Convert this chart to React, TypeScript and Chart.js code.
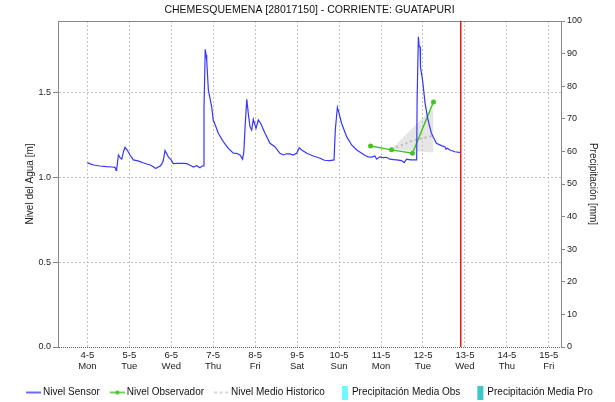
import React, { useEffect, useRef } from 'react';
import { Chart, registerables } from 'chart.js';

Chart.register(...registerables);

const TITLE = 'CHEMESQUEMENA [28017150] - CORRIENTE: GUATAPURI';
const Y_TITLE = 'Nivel del Agua [m]';
const Y1_TITLE = 'Precipitación [mm]';

// x values are days counted from 4-5 00:00
const DAY_TICKS = [0, 1, 2, 3, 4, 5, 6, 7, 8, 9, 10, 11];
const DAY_LABELS = ['4-5', '5-5', '6-5', '7-5', '8-5', '9-5', '10-5', '11-5', '12-5', '13-5', '14-5', '15-5'];
const WEEKDAY_LABELS = ['Mon', 'Tue', 'Wed', 'Thu', 'Fri', 'Sat', 'Sun', 'Mon', 'Tue', 'Wed', 'Thu', 'Fri'];
const X_MIN = -0.7;
const X_MAX = 11.29;

const LEVEL_TICKS = [0, 0.5, 1, 1.5];
const LEVEL_MAX = 1.92;
const PRECIP_TICKS = [0, 10, 20, 30, 40, 50, 60, 70, 80, 90, 100];
const NOW_DAY = 8.9;

const SENSOR_DAYS = [
  0.0, 0.05, 0.15, 0.3, 0.45, 0.6, 0.66, 0.684, 0.7, 0.74, 0.78, 0.82, 0.86, 0.898, 0.95,
  1.017, 1.096, 1.18, 1.256, 1.33, 1.415, 1.5, 1.573, 1.62, 1.653, 1.7, 1.732, 1.78, 1.811, 1.851,
  1.89, 1.93, 2.0, 2.05, 2.15, 2.3, 2.368, 2.45, 2.526, 2.6, 2.685, 2.73, 2.764, 2.78, 2.81, 2.83,
  2.845, 2.884, 2.963, 3.0, 3.06, 3.12, 3.24, 3.36, 3.48, 3.56, 3.64, 3.7, 3.73, 3.76, 3.8, 3.836,
  3.876, 3.916, 3.956, 4.02, 4.075, 4.13, 4.234, 4.353, 4.47, 4.59, 4.67, 4.75, 4.83, 4.9, 4.99,
  5.05, 5.11, 5.23, 5.385, 5.545, 5.65, 5.78, 5.88, 5.91, 5.96, 6.0, 6.06, 6.18, 6.3, 6.42, 6.54,
  6.62, 6.7, 6.78, 6.855, 6.895, 6.97, 7.05, 7.13, 7.21, 7.3, 7.37, 7.49, 7.55, 7.61, 7.7, 7.85,
  7.86, 7.89, 7.91, 7.93, 7.94, 7.99, 8.05, 8.12, 8.2, 8.32, 8.44, 8.52, 8.55, 8.58, 8.64, 8.76, 8.9,
];
const SENSOR_LEVELS = [
  1.086, 1.08, 1.072, 1.066, 1.062, 1.06, 1.058, 1.04, 1.05, 1.131, 1.115, 1.106, 1.15, 1.176, 1.16,
  1.131, 1.102, 1.098, 1.092, 1.085, 1.078, 1.072, 1.062, 1.052, 1.055, 1.062, 1.065, 1.08, 1.1, 1.157,
  1.14, 1.12, 1.1, 1.08, 1.082, 1.082, 1.08, 1.07, 1.06, 1.068, 1.055, 1.065, 1.066, 1.406, 1.753, 1.72,
  1.69, 1.513, 1.415, 1.337, 1.3, 1.259, 1.21, 1.17, 1.141, 1.14, 1.131, 1.106, 1.15, 1.298, 1.459, 1.376,
  1.298, 1.278, 1.341, 1.288, 1.337, 1.318, 1.259, 1.2, 1.18, 1.141, 1.131, 1.138, 1.137, 1.13, 1.141,
  1.174, 1.16, 1.141, 1.125, 1.112, 1.1, 1.098, 1.102, 1.278, 1.412, 1.376, 1.318, 1.239, 1.19, 1.16, 1.141,
  1.128, 1.12, 1.118, 1.125, 1.106, 1.12, 1.115, 1.117, 1.106, 1.104, 1.102, 1.098, 1.086, 1.106, 1.102, 1.102,
  1.455, 1.827, 1.77, 1.768, 1.65, 1.572, 1.435, 1.337, 1.259, 1.2, 1.186, 1.18, 1.165, 1.17, 1.16, 1.15, 1.145,
];

const OBS_DAYS = [6.75, 7.25, 7.75, 8.25];
const OBS_LEVELS = [1.184, 1.161, 1.141, 1.443];

const HIST_DAYS = [7.25, 7.75, 8.25];
const HIST_MEAN = [1.165, 1.215, 1.245];
const HIST_MAX = [1.165, 1.29, 1.41];
const HIST_MIN = [1.165, 1.155, 1.145];

const PRECIP_OBS: number[] = [];
const PRECIP_PRO: number[] = [];

const LEGEND_LABELS = ['Nivel Sensor', 'Nivel Observador', 'Nivel Medio Historico', 'Precipitación Media Obs', 'Precipitación Media Pro'];

const BLUE = 'rgb(55,55,255)';
const GREEN = 'rgb(68,196,34)';
const HIST_GRAY = '#b8b8b8';
const CYAN = '#6ff8ff';
const TEAL = '#3fc6c6';
const AXIS_GRAY = '#888888';
const GRID_GRAY = '#c4c4c4';
const FONT = "'Liberation Sans', Arial, sans-serif";

const pts = (xs: number[], ys: number[]) => xs.map((x, i) => ({ x, y: ys[i] }));

function makeGlyph(draw: (g: CanvasRenderingContext2D) => void) {
  const c = document.createElement('canvas');
  c.width = 18;
  c.height = 14;
  const g = c.getContext('2d')!;
  draw(g);
  return c;
}

export default function App() {
  const ref = useRef<HTMLCanvasElement>(null);

  useEffect(() => {
    document.body.style.margin = '0';
    const glyphs = [
      makeGlyph((g) => {
        g.strokeStyle = BLUE; g.lineWidth = 1.5;
        g.beginPath(); g.moveTo(3, 7); g.lineTo(18, 7); g.stroke();
      }),
      makeGlyph((g) => {
        g.strokeStyle = GREEN; g.lineWidth = 1.5;
        g.beginPath(); g.moveTo(3, 7); g.lineTo(18, 7); g.stroke();
        g.fillStyle = GREEN; g.beginPath(); g.arc(10.5, 7, 2, 0, Math.PI * 2); g.fill();
      }),
      makeGlyph((g) => {
        g.strokeStyle = '#cccccc'; g.lineWidth = 1.5; g.setLineDash([3, 2.5]);
        g.beginPath(); g.moveTo(3, 7); g.lineTo(18, 7); g.stroke();
      }),
      makeGlyph((g) => { g.fillStyle = CYAN; g.fillRect(10, 0, 6, 14); }),
      makeGlyph((g) => { g.fillStyle = TEAL; g.fillRect(10, 0, 6, 14); }),
    ];

    const overlay = {
      id: 'overlay',
      afterDatasetsDraw(chart: any) {
        const { ctx, chartArea, scales } = chart;
        ctx.save();
        ctx.strokeStyle = AXIS_GRAY;
        ctx.lineWidth = 1;
        ctx.beginPath();
        ctx.moveTo(chartArea.left, chartArea.top + 0.5);
        ctx.lineTo(chartArea.right, chartArea.top + 0.5);
        ctx.stroke();
        const nx = scales.x.getPixelForValue(NOW_DAY);
        ctx.strokeStyle = '#e41a1a';
        ctx.lineWidth = 1.5;
        ctx.beginPath();
        ctx.moveTo(nx, chartArea.top);
        ctx.lineTo(nx, chartArea.bottom);
        ctx.stroke();
        ctx.restore();
      },
    };

    const chart = new Chart(ref.current!, {
      type: 'line',
      data: {
        datasets: [
          { label: LEGEND_LABELS[0], data: pts(SENSOR_DAYS, SENSOR_LEVELS), borderColor: BLUE, backgroundColor: BLUE, borderWidth: 1.2, pointRadius: 0, yAxisID: 'y' },
          { label: LEGEND_LABELS[1], data: pts(OBS_DAYS, OBS_LEVELS), borderColor: GREEN, backgroundColor: GREEN, borderWidth: 1.5, pointRadius: 2.5, pointBorderWidth: 0, yAxisID: 'y' },
          { label: LEGEND_LABELS[2], data: pts(HIST_DAYS, HIST_MEAN), borderColor: HIST_GRAY, backgroundColor: HIST_GRAY, borderWidth: 2, borderDash: [2, 3], pointRadius: 0, yAxisID: 'y' },
          { label: LEGEND_LABELS[3], data: pts([], PRECIP_OBS), borderColor: CYAN, backgroundColor: CYAN, pointRadius: 0, yAxisID: 'y1' },
          { label: LEGEND_LABELS[4], data: pts([], PRECIP_PRO), borderColor: TEAL, backgroundColor: TEAL, pointRadius: 0, yAxisID: 'y1' },
          { label: 'max', data: pts(HIST_DAYS, HIST_MAX), borderWidth: 0, pointRadius: 0, fill: '+1', backgroundColor: 'rgba(200,200,200,0.45)', yAxisID: 'y' },
          { label: 'min', data: pts(HIST_DAYS, HIST_MIN), borderWidth: 0, pointRadius: 0, fill: false, yAxisID: 'y' },
        ] as any,
      },
      options: {
        animation: false,
        responsive: false,
        devicePixelRatio: 1,
        font: { family: FONT } as any,
        layout: { padding: { left: 4, right: 0, top: 0, bottom: -5.5 } },
        elements: { line: { tension: 0 } },
        plugins: {
          tooltip: { enabled: false },
          title: {
            display: true,
            text: TITLE,
            color: '#111',
            font: { family: FONT, size: 10.5, weight: 'normal' },
            padding: { top: 4, bottom: 4.4 },
          },
          legend: {
            position: 'bottom',
            labels: {
              usePointStyle: true,
              pointStyleWidth: 12,
              padding: 10,
              color: '#111',
              font: { family: FONT, size: 10 },
              generateLabels: (ch: any) => {
                const items = (Chart.defaults.plugins.legend.labels as any).generateLabels(ch);
                return items
                  .filter((it: any) => it.datasetIndex < 5)
                  .map((it: any) => ({ ...it, pointStyle: glyphs[it.datasetIndex] }));
              },
            },
          },
        } as any,
        scales: {
          x: {
            type: 'linear',
            min: X_MIN,
            max: X_MAX,
            offset: false,
            afterBuildTicks: (s: any) => { s.ticks = DAY_TICKS.map((v) => ({ value: v })); },
            afterFit: (s: any) => { s.height = 30.5; },
            ticks: {
              autoSkip: false,
              maxRotation: 0,
              padding: 2,
              color: '#222',
              font: { family: FONT, size: 9.5, lineHeight: 1.25 },
              callback: (_v: any, i: number) => [DAY_LABELS[i], WEEKDAY_LABELS[i]],
            },
            grid: { color: GRID_GRAY, drawTicks: false, offset: false },
            border: { display: false, dash: [2, 2] },
          },
          y: {
            type: 'linear',
            position: 'left',
            min: 0,
            max: LEVEL_MAX,
            afterBuildTicks: (s: any) => { s.ticks = LEVEL_TICKS.map((v) => ({ value: v })); },
            afterFit: (s: any) => { s.width = 54; },
            ticks: {
              padding: 2,
              color: '#222',
              font: { family: FONT, size: 9 },
              callback: (v: any) => Number(v).toFixed(1),
            },
            grid: {
              color: (c: any) => (c.tick && c.tick.value === 0 ? '#666' : GRID_GRAY),
              tickColor: AXIS_GRAY,
              tickLength: 5,
            },
            border: {
              display: true,
              color: AXIS_GRAY,
              dash: (c: any) => (c.tick && c.tick.value === 0 ? [1, 1] : [2, 2]),
            },
            title: {
              display: true,
              text: Y_TITLE,
              color: '#222',
              font: { family: FONT, size: 10 },
              padding: { top: 20, bottom: 0 },
            },
          },
          y1: {
            type: 'linear',
            position: 'right',
            min: 0,
            max: 100,
            afterBuildTicks: (s: any) => { s.ticks = PRECIP_TICKS.map((v) => ({ value: v })); },
            afterFit: (s: any) => { s.width = 54; },
            ticks: {
              padding: 2,
              color: '#222',
              font: { family: FONT, size: 9 },
            },
            grid: { drawOnChartArea: false, tickColor: AXIS_GRAY, tickLength: 4 },
            border: { display: true, color: AXIS_GRAY },
            title: {
              display: true,
              text: Y1_TITLE,
              color: '#222',
              font: { family: FONT, size: 10 },
              padding: { top: 16, bottom: 0 },
            },
          },
        } as any,
      },
      plugins: [overlay],
    });
    return () => chart.destroy();
  }, []);

  return (
    <div style={{ width: 615, height: 402 }}>
      <canvas ref={ref} width={615} height={402} style={{ display: 'block' }} />
    </div>
  );
}
